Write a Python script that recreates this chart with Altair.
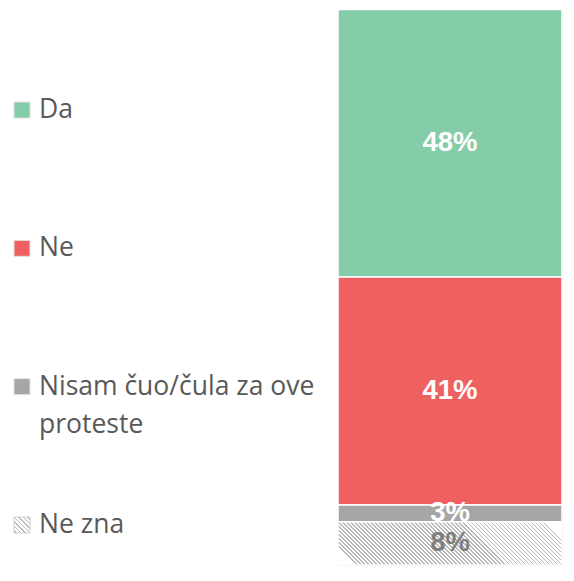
import altair as alt
import pandas as pd

# ---- data ----
categories = ["Da", "Ne", "Nisam čuo/čula za ove proteste", "Ne zna"]
values = [48.2, 41.1, 3.0, 7.8]
legend_line1 = ["Da", "Ne", "Nisam čuo/čula za ove", "Ne zna"]
legend_line2 = ["", "", "proteste", ""]
solid_colors = ["#85cca8", "#ef6161", "#a6a6a6"]
label_colors = ["#ffffff", "#ffffff", "#ffffff", "#7f7f7f"]

PLOT_H = 555
BAR_W = 224
LEFT_W = 318
HATCH_LINE = "#b8b8b8"
HATCH_BG = "#ffffff"


def hatch(n, x1, y1, x2, y2, duty=0.35):
    stops = []
    g = (1 - duty) / 2
    for k in range(n):
        a = k / n
        b = (k + g) / n
        c = (k + g + duty) / n
        d = (k + 1) / n
        stops += [
            {"offset": a, "color": HATCH_BG},
            {"offset": b, "color": HATCH_BG},
            {"offset": b, "color": HATCH_LINE},
            {"offset": c, "color": HATCH_LINE},
            {"offset": c, "color": HATCH_BG},
            {"offset": d, "color": HATCH_BG},
        ]
    return {"gradient": "linear", "x1": x1, "y1": y1, "x2": x2, "y2": y2, "stops": stops}


# diagonal hatch for the bar segment (45 degree lines in screen space)
seg_h = values[3] / 100 * PLOT_H
r = seg_h / BAR_W
n_bar = int(round(BAR_W * (1 + r * r) / 4))
bar_hatch = hatch(n_bar, 0, 0.5 + r / 2, 1, 0.5 - r / 2)
sq_hatch = hatch(7, 0, 1, 1, 0)

df = pd.DataFrame({
    "cat": categories,
    "value": values,
    "order": list(range(len(categories))),
    "lc": label_colors,
    "line1": legend_line1,
    "line2": legend_line2,
    "grp": ["all"] * len(categories),
})

color_scale = alt.Scale(domain=categories[:3], range=solid_colors)

# ---- right panel: stacked bar ----
base = alt.Chart(df).transform_stack(
    stack="value", groupby=["grp"], as_=["y0", "y1"],
    sort=[alt.SortField("order", order="descending")]
)
yscale = alt.Scale(domain=[0, 100], nice=False, zero=False)
xenc = alt.X("grp:N", axis=None, scale=alt.Scale(paddingInner=0, paddingOuter=0))

bars = base.transform_filter("datum.order < 3").mark_bar(
    stroke="white", strokeWidth=1.5
).encode(
    x=xenc,
    y=alt.Y("y0:Q", scale=yscale, axis=None),
    y2="y1:Q",
    color=alt.Color("cat:N", scale=color_scale, legend=None),
)
hatched = base.transform_filter("datum.order == 3").mark_bar(
    fill=bar_hatch, stroke="white", strokeWidth=1.5
).encode(
    x=xenc,
    y=alt.Y("y0:Q", scale=yscale, axis=None),
    y2="y1:Q",
)
labels = base.transform_calculate(
    mid="(datum.y0 + datum.y1) / 2",
    lab="format(datum.value, '.0f') + '%'",
).mark_text(
    font="Liberation Sans", fontWeight="bold", fontSize=27.5, baseline="middle", align="center"
).encode(
    x=xenc,
    y=alt.Y("mid:Q", scale=yscale, axis=None),
    text="lab:N",
    color=alt.Color("lc:N", scale=None),
)

right = alt.layer(bars, hatched, labels).properties(
    width=BAR_W, height=PLOT_H,
    view=alt.ViewBackground(stroke="#d9d9d9", strokeWidth=1),
)

# ---- left panel: legend ----
ly = alt.Y("cat:N", sort=categories, axis=None,
           scale=alt.Scale(type="point", range=[100, 515], padding=0))
lbase = alt.Chart(df)
squares = lbase.transform_filter("datum.order < 3").mark_square(
    size=256, stroke="#e3e3e3", strokeWidth=1, opacity=1
).encode(
    x=alt.value(14), y=ly,
    color=alt.Color("cat:N", scale=color_scale, legend=None),
)
hsquare = lbase.transform_filter("datum.order == 3").mark_square(
    size=256, fill=sq_hatch, stroke="#d0d0d0", strokeWidth=1, opacity=1
).encode(x=alt.value(14), y=ly)
text1 = lbase.mark_text(
    align="left", baseline="middle", font="Open Sans", fontSize=26.5, color="#595959"
).encode(x=alt.value(31), y=ly, text="line1:N")
text2 = lbase.transform_filter("datum.line2 != ''").mark_text(
    align="left", baseline="middle", font="Open Sans", fontSize=26.5, color="#595959", dy=38
).encode(x=alt.value(31), y=ly, text="line2:N")

left = alt.layer(squares, hsquare, text1, text2).properties(
    width=LEFT_W, height=PLOT_H,
    view=alt.ViewBackground(strokeOpacity=0),
)

chart = alt.hconcat(left, right, spacing=10).properties(
    padding=0, background="white"
)

chart.save("out.html", embed_options={"renderer": "svg", "actions": False})
